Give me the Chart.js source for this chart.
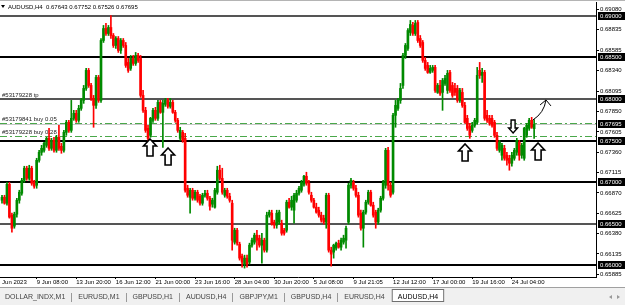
<!DOCTYPE html>
<html>
<head>
<meta charset="utf-8">
<script src="https://cdn.jsdelivr.net/npm/chart.js@4.4.1/dist/chart.umd.min.js"></script>
<style>
  html, body { margin: 0; padding: 0; background: #fff; overflow: hidden; }
  canvas { display: block; }
</style>
</head>
<body>
<canvas id="chart" width="625" height="305"></canvas>
<script>
// AUDUSD H4 candles (one entry per bar)
const opens = [
  0.66782,0.66818,0.66746,0.66974,0.66602,0.66470,0.66614,0.66782,0.66866,0.67022,
  0.67167,0.67046,0.67167,0.66998,0.66962,0.67263,0.67359,0.67383,0.67443,0.67527,
  0.67407,0.67503,0.67383,0.67539,0.67431,0.67383,0.67599,0.67720,0.67623,0.67768,
  0.67828,0.67744,0.67888,0.67984,0.68128,0.68345,0.68164,0.68008,0.67924,0.68260,
  0.67984,0.68705,0.68849,0.68789,0.68861,0.68765,0.68645,0.68729,0.68585,0.68705,
  0.68645,0.68441,0.68369,0.68489,0.68429,0.68525,0.68489,0.68044,0.67864,0.67647,
  0.67563,0.67744,0.67864,0.67768,0.67960,0.67840,0.67936,0.67984,0.67912,0.67960,
  0.67840,0.67744,0.67527,0.67599,0.67527,0.66926,0.66818,0.66902,0.66806,0.66878,
  0.66830,0.66746,0.66842,0.66866,0.66806,0.66734,0.66698,0.66878,0.67143,0.67046,
  0.66842,0.66902,0.66830,0.66746,0.66277,0.66421,0.66253,0.66109,0.66013,0.66085,
  0.66037,0.66241,0.66277,0.66361,0.66325,0.66241,0.66301,0.66181,0.66602,0.66626,
  0.66518,0.66482,0.66518,0.66506,0.66421,0.66421,0.66758,0.66698,0.66662,0.66782,
  0.66866,0.66902,0.66974,0.67071,0.66986,0.66842,0.66782,0.66698,0.66662,0.66602,
  0.66566,0.66518,0.66842,0.66181,0.66157,0.66205,0.66265,0.66217,0.66277,0.66301,
  0.66518,0.66962,0.66998,0.66926,0.66842,0.66626,0.66445,0.66638,0.66758,0.66878,
  0.66722,0.66638,0.66518,0.66662,0.66806,0.66962,0.67383,0.66962,0.66878,0.67804,
  0.67888,0.67984,0.68164,0.68525,0.68609,0.68801,0.68886,0.68789,0.68922,0.68729,
  0.68681,0.68465,0.68405,0.68321,0.68345,0.68381,0.68080,0.68164,0.68080,0.68188,
  0.68104,0.68321,0.68164,0.68128,0.68128,0.67984,0.68080,0.67924,0.67768,0.67672,
  0.67623,0.67684,0.67720,0.68345,0.68285,0.68321,0.67804,0.67768,0.67768,0.67720,
  0.67563,0.67383,0.67323,0.67407,0.67323,0.67287,0.67227,0.67287,0.67359,0.67479,
  0.67323,0.67287,0.67563,0.67647,0.67744,0.67643
];
const highs = [
  0.66842,0.66842,0.66998,0.66998,0.66626,0.66638,0.66806,0.66902,0.67046,0.67191,
  0.67191,0.67203,0.67191,0.67022,0.67287,0.67383,0.67443,0.67479,0.67539,0.67647,
  0.67527,0.67539,0.67563,0.67684,0.67467,0.67623,0.67744,0.67744,0.67984,0.67864,
  0.67864,0.67924,0.68008,0.68164,0.68369,0.68369,0.68188,0.68044,0.68285,0.68285,
  0.68729,0.68886,0.68910,0.68886,0.69006,0.68789,0.68753,0.68753,0.68729,0.68729,
  0.68681,0.68489,0.68525,0.68525,0.68561,0.68549,0.68525,0.68104,0.67900,0.67684,
  0.67780,0.67888,0.67900,0.67984,0.67984,0.67984,0.68008,0.68008,0.68008,0.67984,
  0.67864,0.67768,0.67660,0.67623,0.67587,0.66962,0.66926,0.66926,0.66902,0.66902,
  0.66854,0.66866,0.66902,0.66902,0.66830,0.66806,0.66926,0.67191,0.67203,0.67167,
  0.66926,0.66926,0.66866,0.66782,0.66445,0.66445,0.66277,0.66133,0.66121,0.66121,
  0.66265,0.66325,0.66385,0.66421,0.66361,0.66385,0.66325,0.66638,0.66662,0.66662,
  0.66542,0.66662,0.66662,0.66542,0.66445,0.66782,0.66806,0.66830,0.66866,0.66902,
  0.66950,0.67022,0.67083,0.67119,0.67022,0.66878,0.66806,0.66746,0.66698,0.66638,
  0.66602,0.66866,0.66866,0.66217,0.66253,0.66277,0.66301,0.66325,0.66361,0.66470,
  0.66986,0.67046,0.67022,0.66962,0.66878,0.66662,0.66662,0.66782,0.66902,0.66902,
  0.66758,0.66662,0.66686,0.66830,0.67022,0.67407,0.67419,0.66998,0.67828,0.67984,
  0.68008,0.68188,0.68549,0.68669,0.68849,0.68946,0.68922,0.68946,0.68946,0.68765,
  0.68705,0.68501,0.68441,0.68405,0.68405,0.68405,0.68188,0.68224,0.68248,0.68285,
  0.68345,0.68345,0.68200,0.68188,0.68164,0.68128,0.68128,0.67960,0.67804,0.67708,
  0.67720,0.67768,0.68381,0.68441,0.68369,0.68345,0.67864,0.67804,0.67804,0.67744,
  0.67599,0.67503,0.67467,0.67443,0.67359,0.67323,0.67359,0.67407,0.67527,0.67503,
  0.67467,0.67660,0.67708,0.67768,0.67780,0.67752
];
const lows = [
  0.66746,0.66734,0.66722,0.66566,0.66397,0.66445,0.66578,0.66746,0.66842,0.66998,
  0.67022,0.67022,0.66962,0.66926,0.66926,0.67239,0.67323,0.67359,0.67419,0.67383,
  0.67383,0.67359,0.67359,0.67383,0.67347,0.67359,0.67563,0.67599,0.67599,0.67744,
  0.67720,0.67720,0.67864,0.67948,0.68104,0.68140,0.67984,0.67660,0.67888,0.67960,
  0.67960,0.68681,0.68765,0.68765,0.68729,0.68621,0.68609,0.68561,0.68549,0.68621,
  0.68381,0.68321,0.68345,0.68405,0.68405,0.68441,0.68020,0.67840,0.67599,0.67503,
  0.67539,0.67720,0.67744,0.67744,0.67828,0.67419,0.67912,0.67890,0.67890,0.67828,
  0.67720,0.67599,0.67503,0.67479,0.66878,0.66818,0.66626,0.66782,0.66782,0.66758,
  0.66722,0.66722,0.66818,0.66782,0.66662,0.66698,0.66686,0.66854,0.67022,0.66854,
  0.66818,0.66806,0.66758,0.66181,0.66253,0.66241,0.66061,0.65977,0.65965,0.65977,
  0.66013,0.66217,0.66253,0.66181,0.66217,0.66025,0.66157,0.66157,0.66578,0.66482,
  0.66445,0.66445,0.66494,0.66361,0.66361,0.66397,0.66686,0.66662,0.66506,0.66758,
  0.66842,0.66878,0.66950,0.66962,0.66854,0.66758,0.66686,0.66626,0.66578,0.66518,
  0.66494,0.66445,0.66157,0.65989,0.66085,0.66181,0.66205,0.66181,0.66253,0.66205,
  0.66494,0.66926,0.66902,0.66818,0.66578,0.66421,0.66217,0.66614,0.66734,0.66710,
  0.66578,0.66445,0.66494,0.66638,0.66782,0.66926,0.66902,0.66818,0.66854,0.67660,
  0.67864,0.67948,0.68128,0.68489,0.68585,0.68765,0.68765,0.68765,0.68681,0.68621,
  0.68441,0.68345,0.68309,0.68309,0.68321,0.68080,0.68068,0.68044,0.67864,0.68164,
  0.68068,0.68080,0.68020,0.68044,0.67960,0.67960,0.67900,0.67708,0.67623,0.67527,
  0.67599,0.67660,0.67696,0.68248,0.68200,0.67744,0.67720,0.67684,0.67660,0.67539,
  0.67383,0.67359,0.67263,0.67263,0.67203,0.67143,0.67191,0.67263,0.67323,0.67263,
  0.67287,0.67263,0.67539,0.67623,0.67647,0.67526
];
const closes = [
  0.66818,0.66746,0.66974,0.66578,0.66445,0.66614,0.66782,0.66878,0.67022,0.67167,
  0.67046,0.67167,0.66986,0.66950,0.67263,0.67359,0.67407,0.67467,0.67527,0.67407,
  0.67503,0.67383,0.67539,0.67407,0.67383,0.67599,0.67720,0.67623,0.67768,0.67828,
  0.67744,0.67888,0.67984,0.68128,0.68345,0.68164,0.68008,0.67924,0.68260,0.67984,
  0.68705,0.68849,0.68789,0.68861,0.68765,0.68645,0.68729,0.68585,0.68705,0.68645,
  0.68405,0.68345,0.68489,0.68429,0.68525,0.68465,0.68044,0.67864,0.67623,0.67527,
  0.67768,0.67864,0.67768,0.67960,0.67840,0.67948,0.67984,0.67912,0.67960,0.67840,
  0.67744,0.67623,0.67623,0.67503,0.66902,0.66842,0.66902,0.66806,0.66878,0.66782,
  0.66746,0.66842,0.66866,0.66806,0.66710,0.66782,0.66902,0.67143,0.67046,0.66878,
  0.66902,0.66830,0.66782,0.66301,0.66421,0.66265,0.66085,0.66037,0.66085,0.66013,
  0.66241,0.66301,0.66361,0.66301,0.66241,0.66301,0.66181,0.66602,0.66638,0.66494,
  0.66482,0.66626,0.66638,0.66385,0.66385,0.66758,0.66698,0.66782,0.66842,0.66866,
  0.66926,0.66998,0.67071,0.66986,0.66878,0.66782,0.66698,0.66638,0.66602,0.66542,
  0.66518,0.66842,0.66181,0.66133,0.66241,0.66265,0.66217,0.66301,0.66325,0.66445,
  0.66962,0.67022,0.66926,0.66842,0.66602,0.66445,0.66638,0.66758,0.66878,0.66722,
  0.66602,0.66518,0.66662,0.66806,0.66998,0.67383,0.66962,0.66842,0.67804,0.67924,
  0.67984,0.68128,0.68525,0.68645,0.68825,0.68898,0.68789,0.68910,0.68705,0.68645,
  0.68465,0.68369,0.68321,0.68369,0.68381,0.68104,0.68164,0.68068,0.68224,0.68248,
  0.68309,0.68104,0.68044,0.68080,0.67984,0.68104,0.67924,0.67720,0.67647,0.67563,
  0.67684,0.67744,0.68285,0.68285,0.68321,0.67768,0.67744,0.67708,0.67684,0.67563,
  0.67407,0.67479,0.67443,0.67287,0.67263,0.67227,0.67323,0.67383,0.67503,0.67323,
  0.67443,0.67647,0.67684,0.67744,0.67660,0.67695
];

// time axis labels (every 16 bars)
const tickBars = [-2, 14, 30, 46, 62, 78, 94, 110, 126, 142, 158, 174, 190, 206];
const tickLabels = ["6 Jun 2023", "9 Jun 08:00", "13 Jun 20:00", "16 Jun 12:00", "21 Jun 00:00",
  "23 Jun 16:00", "28 Jun 04:00", "30 Jun 20:00", "5 Jul 08:00", "9 Jul 21:05",
  "12 Jul 12:00", "17 Jul 00:00", "19 Jul 16:00", "24 Jul 04:00"];

// price scale
const priceTicks = [0.69080, 0.68835, 0.68585, 0.68340, 0.68095, 0.67850, 0.67605,
  0.67360, 0.67115, 0.66870, 0.66625, 0.66380, 0.66135, 0.65885];
const levelPrices = [0.69, 0.685, 0.68, 0.675, 0.67, 0.665, 0.66];
const levelGrey = [true, false, true, false, false, true, false];
const orderPrices = [0.68000, 0.67708, 0.67551];
const orderLabels = ["#53179228 tp", "#53179841 buy 0.05", "#53179228 buy 0.28"];
const bidPrice = 0.67695;
const headerText = "AUDUSD,H4  0.67643 0.67752 0.67526 0.67695";

// hand drawn marks: [bar, price]
const upArrows = [[59.8, 0.67519], [67.1, 0.67411], [187.1, 0.67459], [216.6, 0.67471]];
const downArrows = [[206.5, 0.67591]];
const hintCurve = [[214.5, 0.67748], [219.0, 0.67832], [219.8, 0.67989]];
const hintHead = [[217.4, 0.67929], [219.8, 0.67989], [221.8, 0.67917]];

const tabs = ["DOLLAR_INDX,M1", "EURUSD,M1", "GBPUSD,H1", "AUDUSD,H4", "GBPJPY,M1",
  "GBPUSD,H4", "EURUSD,H4", "AUDUSD,H4"];

const FONT = '"Liberation Sans", Arial, sans-serif';
const GREEN = "#008a00";
const RED = "#ff0000";

const bars = opens.map((_, i) => i);
const isUp = bars.map(i => closes[i] >= opens[i]);

function upArrow(ctx, x, y) {
  ctx.beginPath();
  ctx.moveTo(x, y);
  ctx.lineTo(x + 6.5, y + 7);
  ctx.lineTo(x + 3, y + 7);
  ctx.lineTo(x + 3, y + 17);
  ctx.lineTo(x - 3, y + 17);
  ctx.lineTo(x - 3, y + 7);
  ctx.lineTo(x - 6.5, y + 7);
  ctx.closePath();
  ctx.fillStyle = "#fff";
  ctx.fill();
  ctx.lineWidth = 1.6;
  ctx.strokeStyle = "#000";
  ctx.stroke();
}

function downArrow(ctx, x, y) {
  ctx.beginPath();
  ctx.moveTo(x, y);
  ctx.lineTo(x + 4.5, y - 5);
  ctx.lineTo(x + 2, y - 5);
  ctx.lineTo(x + 2, y - 13);
  ctx.lineTo(x - 2, y - 13);
  ctx.lineTo(x - 2, y - 5);
  ctx.lineTo(x - 4.5, y - 5);
  ctx.closePath();
  ctx.fillStyle = "#fff";
  ctx.fill();
  ctx.lineWidth = 1.4;
  ctx.strokeStyle = "#000";
  ctx.stroke();
}

const overlay = {
  id: "overlay",
  beforeDatasetsDraw(chart) {
    const { ctx, chartArea: a, scales: { y } } = chart;
    ctx.save();
    // support / resistance levels
    levelPrices.forEach((p, i) => {
      const py = Math.round(y.getPixelForValue(p));
      ctx.fillStyle = levelGrey[i] ? "#555" : "#000";
      ctx.fillRect(a.left, py - 1, a.right - a.left, 2);
    });
    // bid line
    const by = Math.round(y.getPixelForValue(bidPrice)) + 0.5;
    ctx.strokeStyle = "#c8c8c8";
    ctx.lineWidth = 1;
    ctx.beginPath();
    ctx.moveTo(a.left, by);
    ctx.lineTo(a.right, by);
    ctx.stroke();
    // order lines
    ctx.strokeStyle = "#4aa84a";
    ctx.setLineDash([7, 3, 2, 3]);
    orderPrices.slice(1).forEach(p => {
      const py = Math.round(y.getPixelForValue(p)) + 0.5;
      ctx.beginPath();
      ctx.moveTo(a.left, py);
      ctx.lineTo(a.right, py);
      ctx.stroke();
    });
    ctx.restore();
  },
  afterDatasetsDraw(chart) {
    const { ctx, chartArea: a, scales: { x, y } } = chart;
    ctx.save();
    // order labels
    ctx.font = "6px " + FONT;
    ctx.fillStyle = "#222";
    ctx.textBaseline = "bottom";
    orderPrices.forEach((p, i) => {
      ctx.fillText(orderLabels[i], a.left + 2, Math.round(y.getPixelForValue(p)) - 1);
    });
    // arrows
    upArrows.forEach(([b, p]) => upArrow(ctx, x.getPixelForValue(b), y.getPixelForValue(p)));
    downArrows.forEach(([b, p]) => downArrow(ctx, x.getPixelForValue(b), y.getPixelForValue(p)));
    // hand drawn hint
    const pt = ([b, p]) => [x.getPixelForValue(b), y.getPixelForValue(p)];
    const c = hintCurve.map(pt);
    const h = hintHead.map(pt);
    ctx.strokeStyle = "#000";
    ctx.lineWidth = 1;
    ctx.beginPath();
    ctx.moveTo(c[0][0], c[0][1]);
    ctx.quadraticCurveTo(c[1][0], c[1][1], c[2][0], c[2][1]);
    ctx.moveTo(h[0][0], h[0][1]);
    ctx.lineTo(h[1][0], h[1][1]);
    ctx.lineTo(h[2][0], h[2][1]);
    ctx.stroke();
    // header
    ctx.fillStyle = "#000";
    ctx.beginPath();
    ctx.moveTo(1, 5);
    ctx.lineTo(5, 5);
    ctx.lineTo(3, 8);
    ctx.closePath();
    ctx.fill();
    ctx.font = "6px " + FONT;
    ctx.textBaseline = "middle";
    ctx.fillText(headerText, 8, 7);
    ctx.restore();
  },
  afterDraw(chart) {
    const { ctx, chartArea: a, scales: { y }, width, height } = chart;
    ctx.save();
    // price boxes on the axis
    ctx.font = "6px " + FONT;
    ctx.textBaseline = "middle";
    levelPrices.concat([bidPrice]).forEach(p => {
      const py = Math.round(y.getPixelForValue(p));
      ctx.fillStyle = "#000";
      ctx.fillRect(a.right + 2, py - 4, width - a.right - 2, 8);
      ctx.fillStyle = "#fff";
      ctx.fillText(p.toFixed(5), a.right + 4, py);
    });
    // top frame
    ctx.fillStyle = "#b4b4b4";
    ctx.fillRect(0, 0, width, 1);
    // tab bar
    const top = 287;
    ctx.fillStyle = "#f0f0f0";
    ctx.fillRect(0, top, width, height - top);
    ctx.fillStyle = "#a0a0a0";
    ctx.fillRect(0, top, width, 1);
    ctx.font = "7px " + FONT;
    let tx = 5;
    tabs.forEach((t, i) => {
      const w = ctx.measureText(t).width;
      if (i === tabs.length - 1) {
        ctx.fillStyle = "#fff";
        ctx.fillRect(tx - 6, top + 2, w + 12, 13);
        ctx.strokeStyle = "#707070";
        ctx.lineWidth = 1;
        ctx.strokeRect(tx - 5.5, top + 2.5, w + 11, 12);
        ctx.fillStyle = "#000";
      } else {
        ctx.fillStyle = "#444";
      }
      ctx.fillText(t, tx, top + 10);
      tx += w;
      if (i < tabs.length - 2) {
        ctx.fillStyle = "#999";
        ctx.fillRect(Math.round(tx + 6), top + 6, 1, 9);
      }
      tx += 13;
    });
    // scroll arrows
    ctx.fillStyle = "#999";
    ctx.beginPath();
    ctx.moveTo(609, top + 10); ctx.lineTo(612, top + 8); ctx.lineTo(612, top + 12); ctx.closePath();
    ctx.moveTo(620, top + 10); ctx.lineTo(617, top + 8); ctx.lineTo(617, top + 12); ctx.closePath();
    ctx.fill();
    ctx.restore();
  }
};

new Chart(document.getElementById("chart"), {
  type: "bar",
  data: {
    datasets: [
      {
        label: "wick",
        data: bars.map(i => ({ x: i, y: [lows[i], highs[i]] })),
        backgroundColor: bars.map(i => (isUp[i] ? GREEN : RED)),
        barThickness: 1,
        grouped: false,
        borderWidth: 0,
        order: 2
      },
      {
        label: "body",
        data: bars.map(i => ({ x: i, y: [opens[i], closes[i]] })),
        backgroundColor: bars.map(i => (isUp[i] ? GREEN : RED)),
        barThickness: 2,
        grouped: false,
        borderWidth: 0,
        order: 1
      }
    ]
  },
  options: {
    responsive: false,
    devicePixelRatio: 1,
    animation: false,
    layout: { padding: { top: 2, left: 0, right: 0, bottom: 0 } },
    plugins: { legend: { display: false }, tooltip: { enabled: false } },
    scales: {
      x: {
        type: "linear",
        offset: false,
        min: -0.81,
        max: 240,
        afterBuildTicks: s => { s.ticks = tickBars.map(v => ({ value: v })); },
        afterFit: s => { s.height = 28; s.paddingLeft = 0; s.paddingRight = 0; },
        ticks: {
          callback: (v, i) => tickLabels[i],
          align: "start",
          autoSkip: false,
          maxRotation: 0,
          padding: 0,
          color: "#000",
          font: { size: 6, family: FONT }
        },
        grid: { offset: false, drawOnChartArea: false, tickLength: 2, color: "#000" },
        border: { color: "#000" }
      },
      y: {
        position: "right",
        min: 0.65858,
        max: 0.69168,
        afterBuildTicks: s => { s.ticks = priceTicks.map(v => ({ value: v })); },
        afterFit: s => { s.width = 29; s.paddingTop = 0; s.paddingBottom = 0; },
        ticks: {
          callback: v => v.toFixed(5),
          autoSkip: false,
          padding: 1,
          color: "#000",
          font: { size: 6, family: FONT }
        },
        grid: { drawOnChartArea: false, tickLength: 3, color: "#000" },
        border: { color: "#000" }
      }
    }
  },
  plugins: [overlay]
});
</script>
</body>
</html>
